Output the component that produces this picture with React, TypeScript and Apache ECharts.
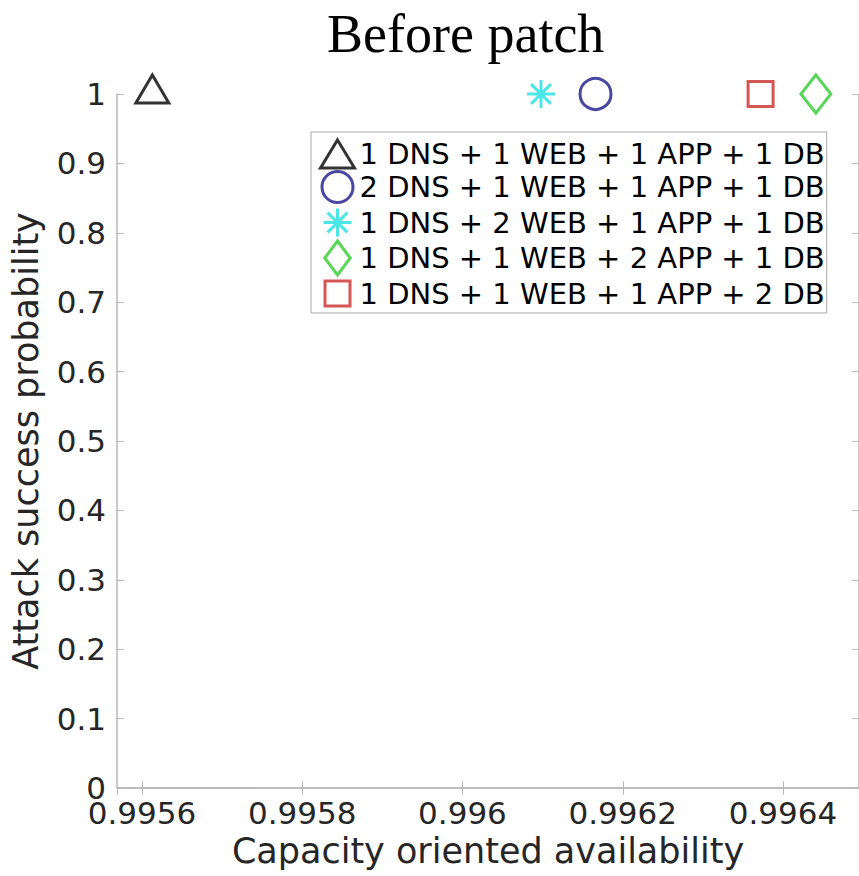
import React, { useEffect, useRef } from "react";
import * as echarts from "echarts";

const titleText = "Before patch";
const xAxisName = "Capacity oriented availability";
const yAxisName = "Attack success probability";
const seriesNames = [
  "1 DNS + 1 WEB + 1 APP + 1 DB",
  "2 DNS + 1 WEB + 1 APP + 1 DB",
  "1 DNS + 2 WEB + 1 APP + 1 DB",
  "1 DNS + 1 WEB + 2 APP + 1 DB",
  "1 DNS + 1 WEB + 1 APP + 2 DB",
];
const availability = [0.995613, 0.996166, 0.996098, 0.996441, 0.996372];
const attackProb = [1, 1, 1, 1, 1];
const colors = ["#000000", "#1a1a88", "#1fe0e0", "#2ecc2e", "#cc2a2a"];
const ASTERISK =
  "path://M10,0L10,20M0,10L20,10M2.93,2.93L17.07,17.07M2.93,17.07L17.07,2.93";
const symbols = ["triangle", "circle", ASTERISK, "diamond", "rect"];
const symbolSizes: any[] = [[33, 28], 31, 28, [30, 38], 25];
const symbolOffsets: any[] = [[0, -5], [0, 0], [0, 0], [0, 0], [0, 0]];
const legendIcons = [
  "path://M17.5,0L35,29L0,29Z",
  "path://M-1.5,-1.5M32.5,32.5M0,15.5A15.5,15.5,0,1,1,31,15.5A15.5,15.5,0,1,1,0,15.5Z",
  "path://M-3,-3M31,31M14,0L14,28M0,14L28,14M4.1,4.1L23.9,23.9M4.1,23.9L23.9,4.1",
  "path://M15,0L30,20L15,40L0,20Z",
  "path://M-4.5,-4.5M29.5,29.5M0,0L25,0L25,25L0,25Z",
];
const xMin = 0.9955689;
const xMax = 0.9964948;

export default function App() {
  const ref = useRef<HTMLDivElement>(null);
  useEffect(() => {
    if (!ref.current) return;
    const chart = echarts.init(ref.current, null, { renderer: "svg" });
    const axisColor = "#b8b8b8";
    const labelColor = "#262626";
    const font = "DejaVu Sans";
    const series = seriesNames.map((name, i) => ({
      type: "scatter",
      name,
      xAxisIndex: 0,
      yAxisIndex: 0,
      clip: false,
      z: 5,
      symbol: symbols[i],
      symbolSize: symbolSizes[i],
      symbolOffset: symbolOffsets[i],
      itemStyle: {
        color: "rgba(0,0,0,0)",
        borderColor: colors[i],
        borderWidth: 3,
      },
      data: [[availability[i], attackProb[i]]],
    }));
    chart.setOption({
      animation: false,
      backgroundColor: "#ffffff",
      title: {
        text: titleText,
        left: 322,
        top: 2,
        textStyle: {
          fontFamily: "Liberation Serif",
          fontSize: 54,
          fontWeight: "normal",
          color: "#000",
        },
      },
      grid: { left: 116, top: 94, width: 744, height: 694, containLabel: false },
      legend: {
        orient: "vertical",
        left: 311,
        top: 132,
        padding: [6, 2, 1, 8],
        itemGap: -1.5,
        itemWidth: 34,
        itemHeight: 34,
        symbolKeepAspect: true,
        borderColor: "#a8a8a8",
        borderWidth: 1,
        backgroundColor: "#ffffff",
        textStyle: { fontFamily: font, fontSize: 29, lineHeight: 32, color: "#000" },
        data: seriesNames.map((name, i) => ({
          name,
          icon: legendIcons[i],
          itemStyle: {
            color: "rgba(0,0,0,0)",
            borderColor: colors[i],
            borderWidth: 3,
          },
        })),
      },
      xAxis: [
        {
          type: "value",
          min: xMin,
          max: xMax,
          position: "bottom",
          name: xAxisName,
          nameLocation: "middle",
          nameGap: 45,
          nameTextStyle: { fontFamily: font, fontSize: 35, color: labelColor },
          axisLine: { show: true, lineStyle: { color: axisColor, width: 1.5 } },
          axisTick: { show: true, inside: true, length: 7, lineStyle: { color: axisColor } },
          axisLabel: {
            show: true,
            showMinLabel: false,
            showMaxLabel: false,
            margin: 9,
            fontFamily: font,
            fontSize: 31,
            color: labelColor,
            formatter: (v: number) => String(parseFloat(v.toFixed(4))),
          },
          splitLine: { show: false },
        },
        {
          type: "value",
          min: xMin,
          max: xMax,
          position: "top",
          axisLine: { show: true, lineStyle: { color: axisColor, width: 1.5 } },
          axisTick: { show: true, inside: true, length: 7, lineStyle: { color: axisColor } },
          axisLabel: { show: false },
          splitLine: { show: false },
        },
      ],
      yAxis: [
        {
          type: "value",
          min: 0,
          max: 1,
          interval: 0.1,
          position: "left",
          name: yAxisName,
          nameLocation: "middle",
          nameGap: 74,
          nameTextStyle: { fontFamily: font, fontSize: 35, color: labelColor },
          axisLine: { show: true, lineStyle: { color: axisColor, width: 1.5 } },
          axisTick: { show: true, inside: true, length: 7, lineStyle: { color: axisColor } },
          axisLabel: {
            margin: 11,
            fontFamily: font,
            fontSize: 31,
            color: labelColor,
            formatter: (v: number) => String(parseFloat(v.toFixed(1))),
          },
          splitLine: { show: false },
        },
        {
          type: "value",
          min: 0,
          max: 1,
          interval: 0.1,
          position: "right",
          axisLine: { show: true, lineStyle: { color: axisColor, width: 1.5 } },
          axisTick: { show: true, inside: true, length: 7, lineStyle: { color: axisColor } },
          axisLabel: { show: false },
          splitLine: { show: false },
        },
      ],
      series,
    });
    return () => chart.dispose();
  }, []);
  return (
    <div
      ref={ref}
      style={{ position: "fixed", left: 0, top: 0, width: 859, height: 876 }}
    />
  );
}
